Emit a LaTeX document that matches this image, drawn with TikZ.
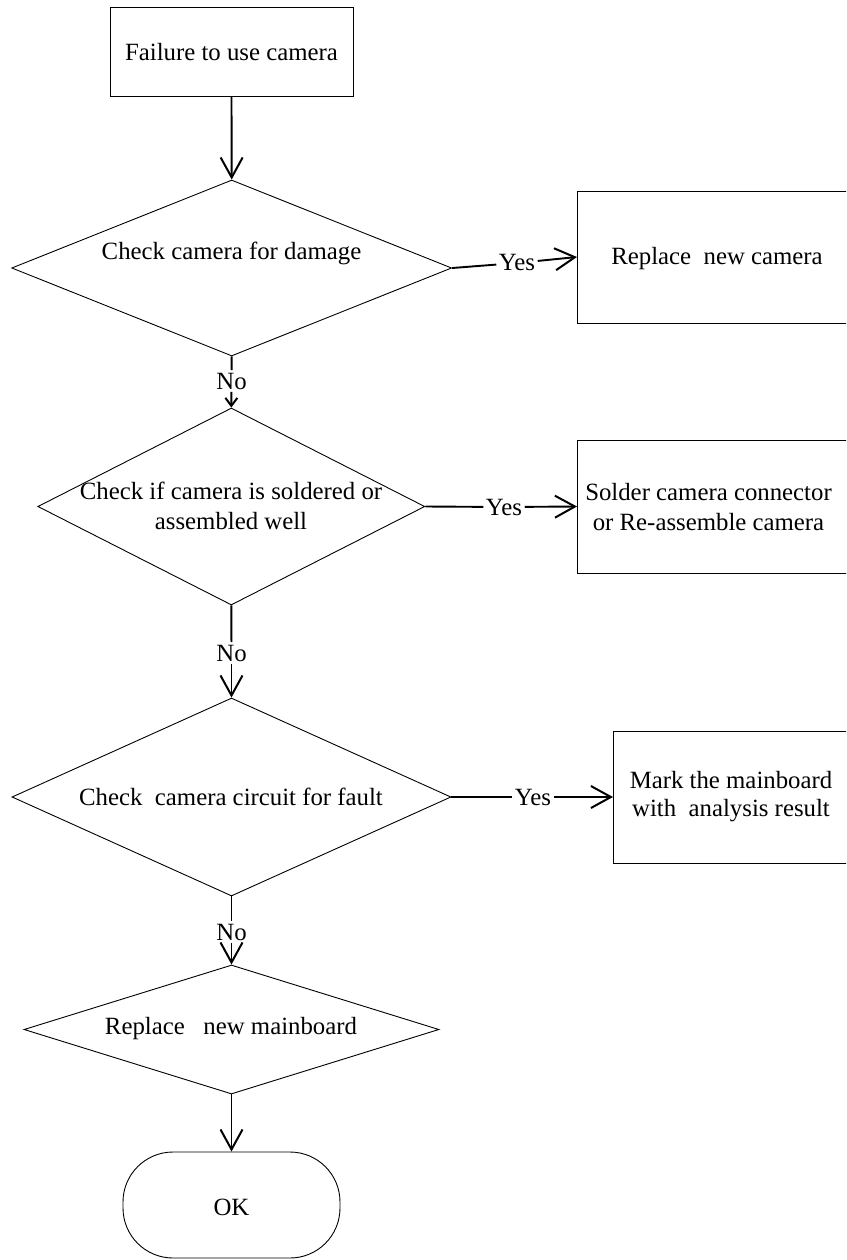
\documentclass[tikz,border=0pt]{standalone}
\usepackage{fontspec}
\setmainfont{Liberation Serif}
\usetikzlibrary{shapes.geometric,arrows.meta}
\begin{document}
\begin{tikzpicture}[x=1pt,y=-1pt,
  every node/.style={font=\fontsize{24.8pt}{30pt}\selectfont},
  shapebox/.style 2 args={draw, line width=0.9pt, rectangle, inner sep=0pt, minimum width=#1, minimum height=#2},
  dia/.style 2 args={draw, line width=0.9pt, diamond, inner sep=0pt, minimum width=#1, minimum height=#2},
  termbox/.style 2 args={draw, line width=0.9pt, rectangle, rounded corners=50pt, inner sep=0pt, minimum width=#1, minimum height=#2},
  txt/.style={align=center, inner sep=0pt},
  lab/.style={inner sep=2.5pt},
  seg/.style={line width=1.9pt},
  conn/.style={line width=1.9pt, -{Straight Barb[length=20pt,width=22pt,line width=2pt]}},
  shortconn/.style={line width=1.9pt, -{Straight Barb[length=8pt,width=12pt,line width=2pt]}}]
\useasboundingbox (0,0) rectangle (846,1260);
\clip (0,0) rectangle (846,1260);

% main column
\node[shapebox={243pt}{89pt}] (b0) at (231.5,51.5) {};
\node[txt] (t0) at (231.5,52) {Failure to use camera};

\node[dia={440pt}{176pt}] (d1) at (231.7,268) {};
\node[txt] (t1) at (231.5,253) {Check camera for damage};

\node[dia={387pt}{197pt}] (d2) at (231.3,506.5) {};
\node[txt] (t2) at (231,506) {Check if camera is soldered or\\assembled well};

\node[dia={439pt}{198pt}] (d3) at (231.5,797) {};
\node[txt] (t3) at (231,797) {Check\ \ camera circuit for fault};

\node[dia={415pt}{129pt}] (d4) at (231.5,1029.5) {};
\node[txt] (t4) at (231,1029) {Replace\ \ \ new mainboard};

\node[termbox={217pt}{106pt}] (ok) at (231.5,1205) {};
\node[txt] (t5) at (231.5,1207) {OK};

% right column
\node[shapebox={300pt}{132pt}, anchor=west] (b1) at (577,257) {};
\node[txt] (tb1) at (717,259) {Replace\ \ new camera};

\node[shapebox={300pt}{133pt}, anchor=west] (b2) at (577,506.5) {};
\node[txt] (tb2) at (708.5,507) {Solder camera connector\\or Re-assemble camera};

\node[shapebox={300pt}{132pt}, anchor=west] (b3) at (613,797) {};
\node[txt, font=\fontsize{24.8pt}{28pt}\selectfont] (tb3) at (731,797) {Mark the mainboard\\with\ \ analysis result};

% labels
\node[lab] (n1) at (231.5,381) {No};
\node[lab] (n2) at (231.5,653) {No};
\node[lab] (n3) at (231.5,932) {No};
\node[lab] (y1) at (517,263) {Yes};
\node[lab] (y2) at (504,507) {Yes};
\node[lab] (y3) at (533,797) {Yes};

% connectors
\draw[conn] (b0.south) -- (d1.north);
\draw[seg] (d1.south) -- (n1);
\draw[shortconn] (n1) -- (d2.north);
\draw[seg] (d2.south) -- (n2);
\draw[conn] (n2) -- (d3.north);
\draw[seg] (d3.south) -- (n3);
\draw[conn] (n3) -- (d4.north);
\draw[conn] (d4.south) -- (ok.north);

\draw[seg] (d1.east) -- (y1);
\draw[conn] (y1) -- (b1.west);
\draw[seg] (d2.east) -- (y2);
\draw[conn] (y2) -- (b2.west);
\draw[seg] (d3.east) -- (y3);
\draw[conn] (y3) -- (b3.west);
\end{tikzpicture}
\end{document}
